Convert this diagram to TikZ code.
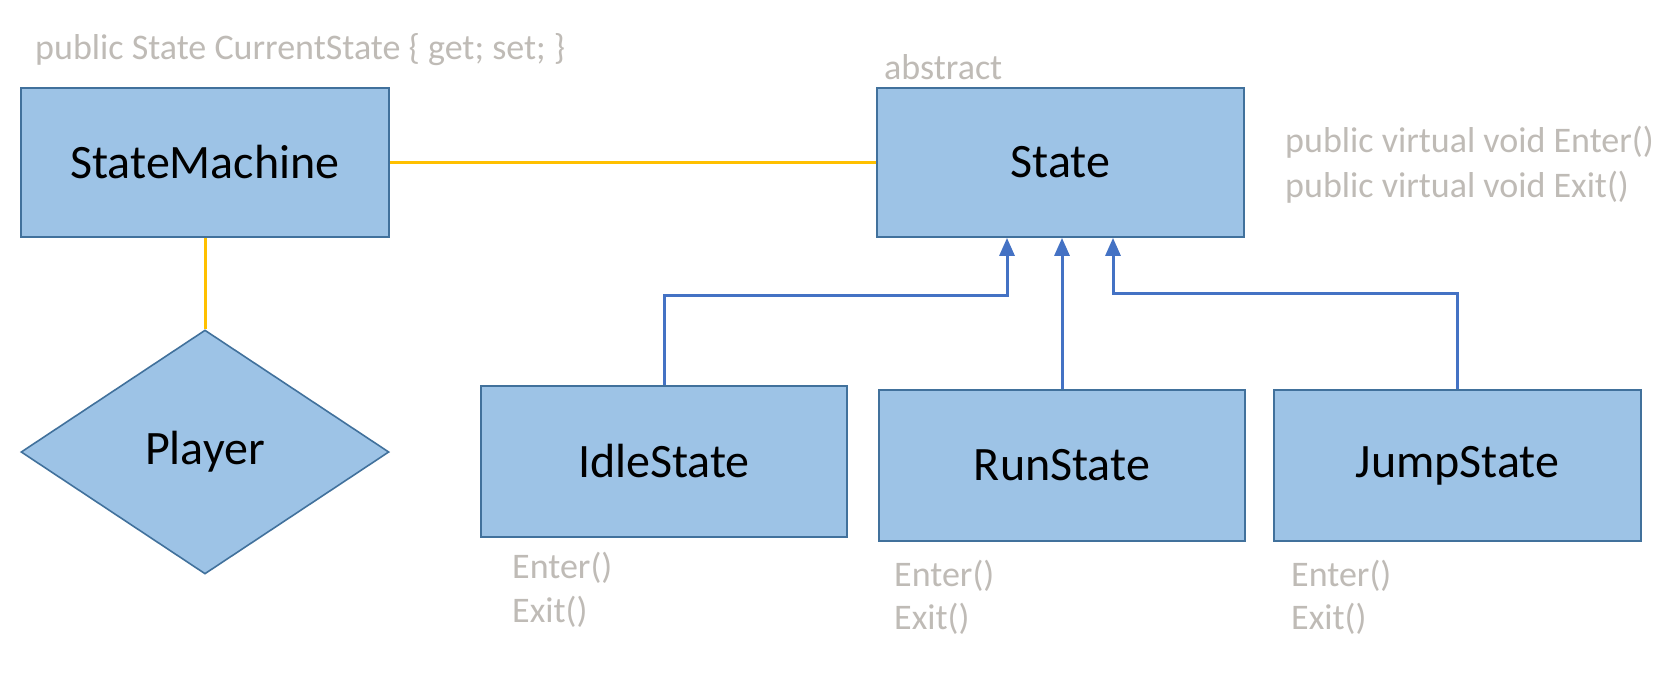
\documentclass[tikz,border=0pt]{standalone}
\usepackage{fontspec}
\setmainfont{Carlito}
\usetikzlibrary{shapes.geometric,arrows.meta,calc}
\definecolor{boxfill}{HTML}{9DC3E6}
\definecolor{boxline}{HTML}{41719C}
\definecolor{yel}{HTML}{FFC000}
\definecolor{arrblue}{HTML}{4472C4}
\definecolor{note}{HTML}{BFBBB6}
\tikzset{
  cls/.style={draw=boxline, line width=1.8pt, fill=boxfill, rectangle, inner sep=0pt,
    font=\fontsize{48}{56}\selectfont, text=black},
  dia/.style={draw=boxline, line width=1.6pt, fill=boxfill, diamond, inner sep=0pt,
    font=\fontsize{48}{56}\selectfont, text=black},
  notetext/.style={inner sep=0pt, anchor=west, text=note, font=\fontsize{36}{42}\selectfont},
  assoc/.style={draw=yel, line width=3pt},
  inh/.style={draw=arrblue, line width=3pt, -{Triangle[width=15pt,length=18pt]}}
}
\begin{document}
\begin{tikzpicture}[x=1pt,y=-1pt]
\useasboundingbox (0,0) rectangle (1676,675);
\fill[white] (0,0) rectangle (1676,675);

\node[cls, minimum width=368pt, minimum height=149pt] (sm) at (205,162.5) {StateMachine};
\node[cls, minimum width=367pt, minimum height=149pt] (st) at (1060.5,162.5) {State};
\node[dia, minimum width=368pt, minimum height=244pt] (pl) at (205,452) {Player};
\node[cls, minimum width=366pt, minimum height=151pt] (idle) at (664,461.5) {IdleState};
\node[cls, minimum width=366pt, minimum height=151pt] (run) at (1062,465.5) {RunState};
\node[cls, minimum width=367pt, minimum height=151pt] (jump) at (1457.5,465.5) {JumpState};

\draw[assoc] (sm.east) -- (st.west);
\draw[assoc] (sm.south) -- (pl.north);

\coordinate (b1) at (1007,295);
\coordinate (b2) at (1113,293);
\draw[inh] (idle.north) |- (b1) -- (b1 |- st.south);
\draw[inh] (run.north) -- (run.north |- st.south);
\draw[inh] (jump.north) |- (b2) -- (b2 |- st.south);

\node[notetext] (n1) at (35,50) {public State CurrentState \{ get; set; \}};
\node[notetext] (n2) at (884,67) {abstract};
\node[notetext] (n3) at (1285,142) {public virtual void Enter()};
\node[notetext] (n4) at (1285,187) {public virtual void Exit()};
\node[notetext] (n5) at (512,568) {Enter()};
\node[notetext] (n6) at (512,612) {Exit()};
\node[notetext] (n7) at (894,576) {Enter()};
\node[notetext] (n8) at (894,619) {Exit()};
\node[notetext] (n9) at (1291,576) {Enter()};
\node[notetext] (n10) at (1291,619) {Exit()};
\end{tikzpicture}
\end{document}
